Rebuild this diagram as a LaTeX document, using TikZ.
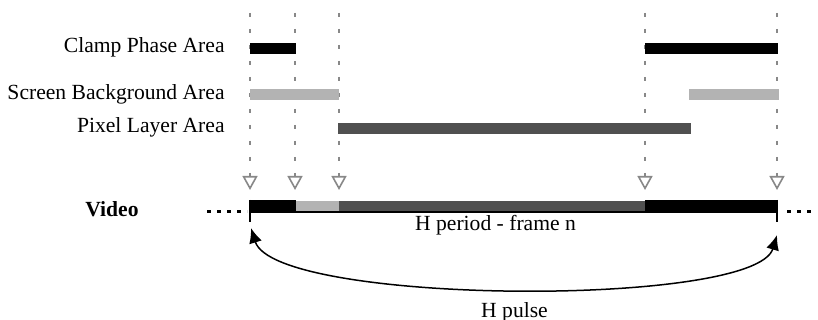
\documentclass[tikz,border=0pt]{standalone}
\usepackage{fontspec}
\setmainfont{Liberation Serif}
\usetikzlibrary{arrows.meta}
\definecolor{clampc}{HTML}{000000}
\definecolor{screenc}{HTML}{B3B3B3}
\definecolor{pixelc}{HTML}{505050}
\definecolor{guidec}{HTML}{888888}
\begin{document}
\begin{tikzpicture}[x=0.5pt,y=-0.5pt,
  lbl/.style={inner sep=0pt,font=\fontsize{10.8}{13}\selectfont},
  guide/.style={draw=guidec,line width=1pt,dash pattern=on 2pt off 6pt,
    -{Triangle[open,length=7pt,width=7.5pt,line width=0.8pt]}},
  tickline/.style={line width=1.3pt},
  dots/.style={line width=1.5pt,dash pattern=on 2pt off 3pt},
  pulse/.style={line width=0.75pt,{Latex[length=7.5pt,width=6.5pt]}-{Latex[length=7.5pt,width=6.5pt]}}]
\useasboundingbox (0,0) rectangle (818,320);
% labels
\node[lbl,anchor=base east] (clampL) at (225,53) {Clamp Phase Area};
\node[lbl,anchor=base east] (screenL) at (225,100) {Screen Background Area};
\node[lbl,anchor=base east] (pixelL) at (225,133) {Pixel Layer Area};
\node[lbl,anchor=base east,font=\fontsize{10.8}{13}\selectfont\bfseries] (videoL) at (139,217) {Video};
\node[lbl,anchor=base] (periodL) at (495.5,230) {H period - frame n};
\node[lbl,anchor=base] (pulseL) at (514.5,317) {H pulse};
% guide lines
\foreach \n/\x in {a/250,b/295,c/339,d/645,e/777}{
  \coordinate (top\n) at (\x,13);
  \coordinate (tip\n) at (\x,190);
  \draw[guide] (top\n) -- (tip\n);
}
% area bars
\fill[clampc] (250,43) rectangle (296,54);
\fill[clampc] (645,43) rectangle (778,54);
\fill[screenc] (250,89) rectangle (339,100);
\fill[screenc] (689,89) rectangle (779,100);
\fill[pixelc] (338,123) rectangle (691,134);
% video bar
\fill[screenc] (296,201) rectangle (339,211);
\fill[pixelc] (339,201) rectangle (645,211);
\fill[black] (250,200) rectangle (296,213);
\fill[black] (645,200) rectangle (778,213);
\draw[line width=1pt] (250,212) -- (778,212);
% ticks
\coordinate (lt) at (250,200);
\coordinate (lb) at (250,222);
\coordinate (rt) at (777,200);
\coordinate (rb) at (777,222);
\draw[tickline] (lt) -- (lb);
\draw[tickline] (rt) -- (rb);
% dotted continuations
\coordinate (dl1) at (207,212);
\coordinate (dl2) at (247,212);
\coordinate (dr1) at (787,212);
\coordinate (dr2) at (812,212);
\draw[dots] (dl1) -- (dl2);
\draw[dots] (dr1) -- (dr2);
% pulse arrow
\coordinate (pa) at (251,228);
\coordinate (pb) at (777,235);
\draw[pulse] (pa) .. controls (275,305) and (755,308) .. (pb);
\end{tikzpicture}
\end{document}
